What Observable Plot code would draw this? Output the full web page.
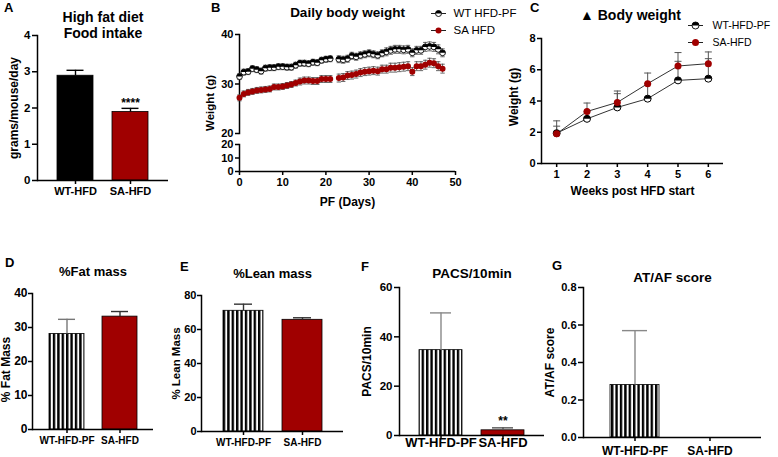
<!DOCTYPE html>
<html><head><meta charset="utf-8">
<script src="https://cdn.jsdelivr.net/npm/d3@7"></script>
<script src="https://cdn.jsdelivr.net/npm/@observablehq/plot@0.6"></script>
<style>
body{margin:0;background:#fff;}
#fig{position:relative;width:778px;height:457px;overflow:hidden;font-family:"Liberation Sans",Arial,sans-serif;background:#fff;}
#fig svg{position:absolute;overflow:visible;background:transparent;max-width:none;}
.lab{position:absolute;font-weight:bold;font-size:13px;line-height:1;color:#000;}
</style></head>
<body>
<svg width="0" height="0" style="position:absolute"><defs>
<pattern id="stripes" patternUnits="userSpaceOnUse" width="4.4" height="10"><rect width="4.4" height="10" fill="white"/><rect width="2.4" height="10" fill="black"/></pattern>
</defs></svg>
<div id="fig"></div>
<script>
// ---------- data ----------
const RED = "#a00000";
const foodGroups = ["WT-HFD", "SA-HFD"];
const foodMean = [2.89, 1.89];
const foodErr = [0.15, 0.10];
const foodStars = ["", "****"];

const pfDays = [0,1,2,3,4,5,6,7,8,9,10,11,12,13,14,15,16,17,18,19,20,21,22,23,24,25,26,27,28,29,30,31,32,33,34,35,36,37,38,39,40,41,42,43,44,45,46,47];
const wtDaily = [31.5,32.4,32.5,33.1,32.9,32.6,33.2,33.3,33.3,33.5,33.5,33.4,33.4,33.8,34.2,34.2,34.1,34.4,34.3,34.8,35.0,35.1,null,35.0,34.9,35.1,35.7,35.5,35.8,36.0,36.2,36.0,35.8,36.2,36.5,36.8,37.0,37.0,36.9,37.0,36.3,36.8,36.8,37.5,37.6,37.5,37.0,36.3];
const wtDailyErr = [0.6,0.6,0.6,0.6,0.6,0.6,0.6,0.6,0.6,0.6,0.6,0.6,0.6,0.6,0.6,0.6,0.6,0.6,0.6,0.6,0.6,0.6,null,0.7,0.7,0.7,0.7,0.7,0.7,0.7,0.7,0.7,0.7,0.7,0.8,0.8,0.8,0.8,0.8,0.8,0.8,0.8,0.8,0.9,0.9,0.9,0.9,0.8];
const saDaily = [27.2,28.0,28.3,28.5,28.7,28.8,28.9,29.0,29.4,29.4,29.5,29.7,29.9,30.2,30.5,30.7,30.7,30.6,30.6,31.0,31.0,31.0,null,31.2,31.3,31.7,31.8,32.0,32.3,32.5,32.6,32.7,32.6,33.0,33.0,33.3,33.3,33.4,33.5,33.6,32.5,33.6,33.6,33.9,34.3,34.2,33.6,33.1];
const saDailyErr = [0.6,0.6,0.6,0.6,0.6,0.6,0.6,0.6,0.6,0.6,0.6,0.6,0.6,0.6,0.7,0.7,0.7,0.7,0.7,0.7,0.7,0.7,null,0.8,0.8,0.8,0.8,0.8,0.8,0.8,0.8,0.8,0.8,0.8,0.8,0.9,0.9,0.9,0.9,0.9,0.8,0.9,0.9,0.9,0.9,0.9,0.9,0.9];

const weeks = [1, 2, 3, 4, 5, 6];
const wtGain = [1.94, 2.86, 3.59, 4.15, 5.32, 5.43];
const wtGainErr = [0.79, 0.45, 0.88, 0.95, 1.22, 1.28];
const saGain = [1.90, 3.33, 3.91, 5.11, 6.24, 6.39];
const saGainErr = [0.49, 0.54, 0.73, 0.68, 0.86, 0.75];

const bodyGroups = ["WT-HFD-PF", "SA-HFD"];
const fatMean = [28.1, 33.2];
const fatErr = [4.3, 1.5];
const leanMean = [71.0, 65.7];
const leanErr = [3.9, 1.2];
const pacsMean = [34.6, 2.1];
const pacsErr = [15.1, 1.0];
const pacsStars = ["", "**"];
const atafMean = [0.28, 0];
const atafErr = [0.29, 0];

// ---------- helpers ----------
const fig = document.getElementById("fig");
const baseStyle = {fontFamily: '"Liberation Sans", Arial, sans-serif', fontSize: "11px", fontWeight: "bold", color: "black", background: "transparent", overflow: "visible"};
function place(svg, left, top) { svg.style.left = left + "px"; svg.style.top = top + "px"; fig.appendChild(svg); }
function letter(t, left, top) { const d = document.createElement("div"); d.className = "lab"; d.textContent = t; d.style.left = left + "px"; d.style.top = top + "px"; fig.appendChild(d); }
const halfTop = {draw(ctx, size) { const r = Math.sqrt(size / Math.PI); ctx.moveTo(r, 0); ctx.arc(0, 0, r, 0, Math.PI, true); ctx.closePath(); }};
const hLine = {draw(ctx, size) { const r = Math.sqrt(size / Math.PI); ctx.moveTo(-r, 0); ctx.lineTo(r, 0); }};
const intFmt = d3.format("d");

function titleMark(t, dy, size, dx = 0) {
  return Plot.text([t], {frameAnchor: "top", dx, dy, fontSize: size, lineHeight: 1.15, textAnchor: "middle", lineAnchor: "middle", text: d => d});
}
function yLabelMark(t, dx, dy, size) {
  return Plot.text([t], {frameAnchor: "left", dx, dy, rotate: -90, fontSize: size, textAnchor: "middle", lineAnchor: "middle", text: d => d});
}

function barPanel(o) {
  const rows = o.groups.map((g, i) => ({g, m: o.mean[i], e: o.err[i], fill: o.fills[i], ec: o.errColors[i], star: o.stars ? o.stars[i] : ""}));
  const withErr = rows.filter(d => d.e > 0);
  const marks = [
    Plot.barY(rows, {x: "g", y: "m", fill: "fill", stroke: "black", strokeWidth: 0.8}),
    Plot.ruleX(withErr, {x: "g", y1: "m", y2: d => d.m + d.e, stroke: "ec", strokeWidth: 1.4}),
    Plot.tickY(withErr, {x: "g", y: d => d.m + d.e, stroke: "ec", strokeWidth: 1.4, insetLeft: o.capInset, insetRight: o.capInset}),
    Plot.frame({anchor: "left", strokeWidth: 1.5}),
    Plot.ruleY([o.yDomain[0]], {strokeWidth: 1.5}),
    Plot.axisY({ticks: o.yTicks, tickSize: o.yTickSize || 5, tickPadding: o.yPad ?? 2, strokeWidth: 1.5, fontSize: o.yFont, label: null, tickFormat: o.tickFormat || intFmt}),
    Plot.axisX({tickSize: 4, tickPadding: o.xPad, strokeWidth: 1.5, fontSize: o.xFont, label: null}),
    titleMark(o.title, o.titleDy, o.titleSize),
    yLabelMark(o.ylabel, o.ylabelDx, o.ylabelDy || 0, o.ylabelSize)
  ];
  if (o.stars) marks.push(Plot.text(rows.filter(d => d.star), {x: "g", y: d => d.m + d.e, text: "star", dy: o.starDy, fontSize: 12}));
  const svg = Plot.plot({
    width: o.width, height: o.height,
    marginLeft: o.mL, marginRight: o.mR, marginTop: o.mT, marginBottom: o.mB,
    x: {type: "band", domain: o.groups, paddingInner: o.padIn, paddingOuter: o.padOut},
    y: {domain: o.yDomain},
    color: {type: "identity"},
    style: baseStyle,
    marks
  });
  place(svg, o.left, o.top);
}

// ---------- A ----------
barPanel({left: 0, top: 0, width: 180, height: 205, mL: 37, mR: 12, mT: 35, mB: 25,
  groups: foodGroups, mean: foodMean, err: foodErr, fills: ["#000", RED], errColors: ["#000", "#000"], stars: foodStars, starDy: -5,
  yDomain: [0, 4], yTicks: [0, 1, 2, 3, 4], yFont: 11.5, xFont: 11, xPad: 3, padIn: 0.34, padOut: 0.34, capInset: 9.5,
  title: "High fat diet\nFood intake", titleDy: -11, titleSize: 14, ylabel: "grams/mouse/day", ylabelDx: -23, ylabelSize: 12});

// ---------- B ----------
const wtRows = pfDays.map((d, i) => ({day: d, v: wtDaily[i], e: wtDailyErr[i]}));
const saRows = pfDays.map((d, i) => ({day: d, v: saDaily[i], e: saDailyErr[i]}));
const wtValid = wtRows.filter(d => d.v != null);
const saValid = saRows.filter(d => d.v != null);
function errMarks(data, xk, color, capR, sw) {
  return [
    Plot.ruleX(data, {x: xk, y1: d => d.v - d.e, y2: d => d.v + d.e, stroke: color, strokeWidth: sw}),
    Plot.dot(data, {x: xk, y: d => d.v + d.e, symbol: hLine, r: capR, stroke: color, fill: "none", strokeWidth: sw}),
    Plot.dot(data, {x: xk, y: d => d.v - d.e, symbol: hLine, r: capR, stroke: color, fill: "none", strokeWidth: sw})
  ];
}
function upErrMarks(data, xk, color, capR, sw) {
  return [
    Plot.ruleX(data, {x: xk, y1: "v", y2: d => d.v + d.e, stroke: color, strokeWidth: sw}),
    Plot.dot(data, {x: xk, y: d => d.v + d.e, symbol: hLine, r: capR, stroke: color, fill: "none", strokeWidth: sw})
  ];
}
function legendItem(label, kind, dx, dy, tdx, fontSize, r) {
  const marks = [Plot.dot([label], {frameAnchor: "top-right", dx, dy, symbol: hLine, r: 7.5, stroke: "#222", fill: "none", strokeWidth: 1})];
  if (kind === "wt") {
    marks.push(Plot.dot([label], {frameAnchor: "top-right", dx, dy, r, fill: "white", stroke: "black", strokeWidth: 0.9}));
    marks.push(Plot.dot([label], {frameAnchor: "top-right", dx, dy, r, symbol: halfTop, fill: "black"}));
  } else {
    marks.push(Plot.dot([label], {frameAnchor: "top-right", dx, dy, r, fill: RED}));
  }
  marks.push(Plot.text([label], {frameAnchor: "top-right", dx: tdx, dy, textAnchor: "start", lineAnchor: "middle", fontWeight: "normal", fontSize, text: d => d}));
  return marks;
}

const bUpper = Plot.plot({
  width: 330, height: 140, marginLeft: 49, marginRight: 65, marginTop: 34, marginBottom: 7,
  x: {domain: [0, 50], axis: null}, y: {domain: [20, 40]},
  style: baseStyle,
  marks: [
    Plot.frame({anchor: "left", strokeWidth: 1.5}),
    Plot.axisY({ticks: [20, 30, 40], tickSize: 4, tickPadding: 2, strokeWidth: 1.5, fontSize: 11, label: null, tickFormat: intFmt}),
    Plot.line(wtRows, {x: "day", y: "v", stroke: "#000", strokeWidth: 1}),
    Plot.line(saRows, {x: "day", y: "v", stroke: RED, strokeWidth: 1}),
    ...errMarks(wtValid, "day", "#444", 2.2, 0.8),
    ...errMarks(saValid, "day", "#444", 2.2, 0.8),
    Plot.dot(saValid, {x: "day", y: "v", r: 3, fill: RED}),
    Plot.dot(wtValid, {x: "day", y: "v", r: 2.9, fill: "white", stroke: "black", strokeWidth: 0.9}),
    Plot.dot(wtValid, {x: "day", y: "v", r: 2.9, symbol: halfTop, fill: "black"}),
    titleMark("Daily body weight", -22, 13.5),
    yLabelMark("Weight (g)", -29, 19, 11.5),
    ...legendItem("WT HFD-PF", "wt", -17, -21, -2, 11.5, 3),
    ...legendItem("SA HFD", "sa", -17, -4, -2, 11.5, 3)
  ]
});
place(bUpper, 190, 0);

const bLower = Plot.plot({
  width: 330, height: 74, marginLeft: 49, marginRight: 65, marginTop: 8, marginBottom: 39,
  x: {domain: [0, 50]}, y: {domain: [0, 20]},
  style: baseStyle,
  marks: [
    Plot.frame({anchor: "left", strokeWidth: 1.5}),
    Plot.ruleY([0], {strokeWidth: 1.5}),
    Plot.axisY({ticks: [0, 10, 20], tickSize: 4, tickPadding: 2, strokeWidth: 1.5, fontSize: 11, label: null, tickFormat: intFmt}),
    Plot.axisX({ticks: [0, 10, 20, 30, 40, 50], tickSize: 4, tickPadding: 3, strokeWidth: 1.5, fontSize: 11, label: null, tickFormat: intFmt}),
    Plot.text(["PF (Days)"], {frameAnchor: "bottom", dy: 31, fontSize: 12, textAnchor: "middle", lineAnchor: "middle", text: d => d})
  ]
});
place(bLower, 190, 136);

// ---------- C ----------
const wtC = weeks.map((w, i) => ({w, v: wtGain[i], e: wtGainErr[i]}));
const saC = weeks.map((w, i) => ({w, v: saGain[i], e: saGainErr[i]}));
const cPlot = Plot.plot({
  width: 268, height: 205, marginLeft: 31, marginRight: 55, marginTop: 38, marginBottom: 42,
  x: {domain: [0.5, 6.5]}, y: {domain: [0, 8]},
  style: baseStyle,
  marks: [
    Plot.frame({anchor: "left", strokeWidth: 1.5}),
    Plot.ruleY([0], {strokeWidth: 1.5}),
    Plot.axisY({ticks: [0, 2, 4, 6, 8], tickSize: 4, tickPadding: 2, strokeWidth: 1.5, fontSize: 11, label: null, tickFormat: intFmt}),
    Plot.axisX({ticks: weeks, tickSize: 4, tickPadding: 3, strokeWidth: 1.5, fontSize: 11, label: null, tickFormat: intFmt}),
    Plot.line(wtC, {x: "w", y: "v", stroke: "#333", strokeWidth: 1}),
    Plot.line(saC, {x: "w", y: "v", stroke: "#333", strokeWidth: 1}),
    ...upErrMarks(wtC, "w", "#555", 3.5, 1),
    ...upErrMarks(saC, "w", "#555", 3.5, 1),
    Plot.dot(wtC, {x: "w", y: "v", r: 3.5, fill: "white", stroke: "black", strokeWidth: 1}),
    Plot.dot(wtC, {x: "w", y: "v", r: 3.5, symbol: halfTop, fill: "black"}),
    Plot.dot(saC, {x: "w", y: "v", r: 3.5, fill: RED}),
    titleMark("▲ Body weight", -24, 14, -2),
    Plot.text(["Weeks post HFD start"], {frameAnchor: "bottom", dy: 28, fontSize: 12, textAnchor: "middle", lineAnchor: "middle", text: d => d}),
    yLabelMark("Weight (g)", -27, -4, 12),
    ...legendItem("WT-HFD-PF", "wt", -28, -13, -11, 10.5, 3.5),
    ...legendItem("SA-HFD", "sa", -28, 4, -11, 10.5, 3.5)
  ]
});
place(cPlot, 510, 0);

// ---------- D ----------
barPanel({left: 0, top: 250, width: 165, height: 205, mL: 32, mR: 12, mT: 43, mB: 26,
  groups: bodyGroups, mean: fatMean, err: fatErr, fills: ["url(#stripes)", RED], errColors: ["#777", "#333"],
  yDomain: [0, 40], yTicks: [0, 10, 20, 30, 40], yFont: 12, yTickSize: 4, yPad: 1, xFont: 10, xPad: 3, padIn: 0.34, padOut: 0.31, capInset: 9,
  title: "%Fat mass", titleDy: -22, titleSize: 13, ylabel: "% Fat Mass", ylabelDx: -26, ylabelDy: 8, ylabelSize: 12});

// ---------- E ----------
barPanel({left: 170, top: 250, width: 185, height: 205, mL: 31, mR: 12, mT: 45, mB: 24,
  groups: bodyGroups, mean: leanMean, err: leanErr, fills: ["url(#stripes)", RED], errColors: ["#333", "#333"],
  yDomain: [0, 80], yTicks: [0, 20, 40, 60, 80], yFont: 11, yTickSize: 4, yPad: 1, xFont: 10, xPad: 3, padIn: 0.33, padOut: 0.36, capInset: 11,
  title: "%Lean mass", titleDy: -22, titleSize: 13, ylabel: "% Lean Mass", ylabelDx: -25, ylabelSize: 11.5});

// ---------- F ----------
barPanel({left: 360, top: 250, width: 195, height: 205, mL: 39, mR: 11, mT: 37, mB: 20,
  groups: bodyGroups, mean: pacsMean, err: pacsErr, fills: ["url(#stripes)", RED], errColors: ["#888", "#555"], stars: pacsStars, starDy: -7,
  yDomain: [0, 60], yTicks: [0, 20, 40, 60], yFont: 11.5, xFont: 13, xPad: -2, padIn: 0.31, padOut: 0.32, capInset: 11,
  title: "PACS/10min", titleDy: -14, titleSize: 13.5, ylabel: "PACS/10min", ylabelDx: -32, ylabelSize: 12});

// ---------- G ----------
barPanel({left: 545, top: 250, width: 233, height: 205, mL: 38, mR: 17, mT: 37, mB: 18,
  groups: bodyGroups, mean: atafMean, err: atafErr, fills: ["url(#stripes)", RED], errColors: ["#888", "#888"],
  yDomain: [0, 0.8], yTicks: [0, 0.2, 0.4, 0.6, 0.8], tickFormat: d3.format(".1f"), yFont: 11, xFont: 12, xPad: 5, padIn: 0.34, padOut: 0.355, capInset: 12,
  title: "AT/AF score", titleDy: -10, titleSize: 13.5, ylabel: "AT/AF score", ylabelDx: -33, ylabelSize: 12});

// ---------- panel letters ----------
letter("A", 4, 1); letter("B", 211, 1); letter("C", 530, 1);
letter("D", 5, 256); letter("E", 180, 260); letter("F", 361, 260); letter("G", 552, 259);
</script>
</body></html>
